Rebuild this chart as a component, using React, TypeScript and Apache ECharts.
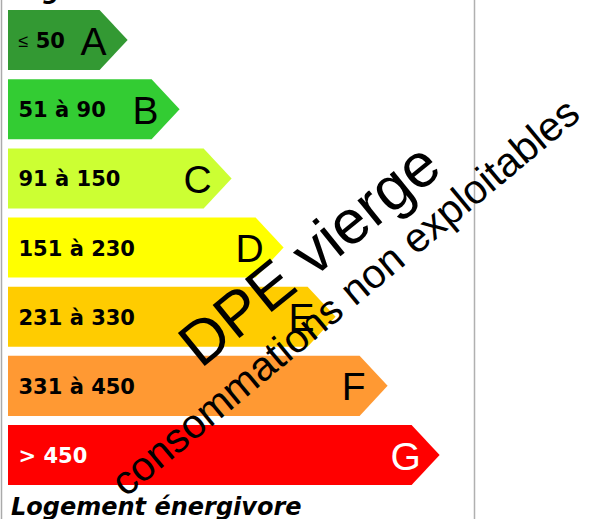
import React, { useEffect, useRef } from "react";
import * as echarts from "echarts";

const letters = ["A", "B", "C", "D", "E", "F", "G"];
const ranges = ["≤ 50", "51 à 90", "91 à 150", "151 à 230", "231 à 330", "331 à 450", "> 450"];
const lengths = [1, 2, 3, 4, 5, 6, 7];
const colors = ["#339933", "#33cc33", "#ccff33", "#ffff00", "#ffcc00", "#ff9933", "#ff0000"];
const textColors = ["#000", "#000", "#000", "#000", "#000", "#000", "#fff"];
const topTitle = "Logement économe";
const bottomTitle = "Logement énergivore";
const stampMain = "DPE vierge";
const stampSub = "consommations non exploitables";

export default function App() {
  const ref = useRef<HTMLDivElement>(null);
  useEffect(() => {
    document.body.style.margin = "0";
    const chart = echarts.init(ref.current!, null, { renderer: "svg" });
    const option: any = {
      animation: false,
      backgroundColor: "#ffffff",
      grid: { left: 8, right: 106.4, top: 5.5, bottom: 29.4 },
      xAxis: { type: "value", min: -1.3, max: 8, show: false },
      yAxis: { type: "category", data: letters, inverse: true, show: false },
      series: [
        {
          type: "custom",
          encode: { x: 0, y: 1 },
          data: lengths.map((v, i) => [v, i]),
          renderItem: (params: any, api: any) => {
            const idx = params.dataIndex;
            const tip = api.coord([api.value(0), api.value(1)]);
            const band = api.size([0, 1])[1];
            const h = band * 0.868;
            const x0 = params.coordSys.x;
            const yMid = tip[1];
            const top = yMid - h / 2;
            const bot = yMid + h / 2;
            const sh = tip[0] - 28;
            const r = ranges[idx];
            const isLe = r.startsWith("≤");
            const label = isLe ? `{s|≤} {b|${r.slice(2)}}` : `{b|${r}}`;
            return {
              type: "group",
              children: [
                {
                  type: "polygon",
                  shape: { points: [[x0, top], [sh, top], [tip[0], yMid], [sh, bot], [x0, bot]] },
                  style: { fill: colors[idx] },
                },
                {
                  type: "text",
                  x: x0 + 10.5,
                  y: yMid + 1,
                  style: {
                    text: label,
                    fill: textColors[idx],
                    fontSize: 21,
                    fontWeight: "bold",
                    fontFamily: "DejaVu Sans",
                    align: "left",
                    verticalAlign: "middle",
                    rich: {
                      s: { fontSize: 18, fontWeight: "normal", fontFamily: "Liberation Sans", fill: textColors[idx] },
                      b: { fontSize: 21, fontWeight: "bold", fontFamily: "DejaVu Sans", fill: textColors[idx] },
                    },
                  },
                },
                {
                  type: "text",
                  x: tip[0] - 34,
                  y: yMid + 1,
                  style: {
                    text: letters[idx],
                    fill: textColors[idx],
                    fontSize: 39,
                    fontFamily: "Liberation Sans",
                    align: "center",
                    verticalAlign: "middle",
                  },
                },
              ],
            };
          },
        },
      ],
      graphic: [
        {
          type: "line",
          z: 50,
          shape: { x1: 1.5, y1: 0, x2: 1.5, y2: 519 },
          style: { stroke: "#aaaaaa", lineWidth: 1.5 },
        },
        {
          type: "line",
          z: 50,
          shape: { x1: 474.5, y1: 0, x2: 474.5, y2: 519 },
          style: { stroke: "#b0b0b0", lineWidth: 1.5 },
        },
        {
          type: "text",
          z: 50,
          x: 11,
          y: -9,
          style: {
            text: topTitle,
            fontSize: 24,
            fontStyle: "italic",
            fontWeight: "bold",
            fontFamily: "DejaVu Sans",
            fill: "#000",
            align: "left",
            verticalAlign: "middle",
          },
        },
        {
          type: "text",
          z: 50,
          x: 11,
          y: 506.5,
          style: {
            text: bottomTitle,
            fontSize: 24,
            fontStyle: "italic",
            fontWeight: "bold",
            fontFamily: "DejaVu Sans",
            fill: "#000",
            align: "left",
            verticalAlign: "middle",
          },
        },
        {
          type: "text",
          z: 100,
          x: 309,
          y: 254,
          rotation: (39 * Math.PI) / 180,
          style: {
            text: stampMain,
            fontSize: 62,
            fontFamily: "Liberation Sans",
            fill: "#000",
            align: "center",
            verticalAlign: "middle",
          },
        },
        {
          type: "text",
          z: 100,
          x: 345,
          y: 297,
          rotation: (39.8 * Math.PI) / 180,
          style: {
            text: stampSub,
            fontSize: 41,
            fontFamily: "Liberation Sans",
            fill: "#000",
            align: "center",
            verticalAlign: "middle",
          },
        },
      ],
    };
    chart.setOption(option);
    return () => chart.dispose();
  }, []);
  return <div ref={ref} style={{ position: "fixed", left: 0, top: 0, width: 598, height: 519 }} />;
}
